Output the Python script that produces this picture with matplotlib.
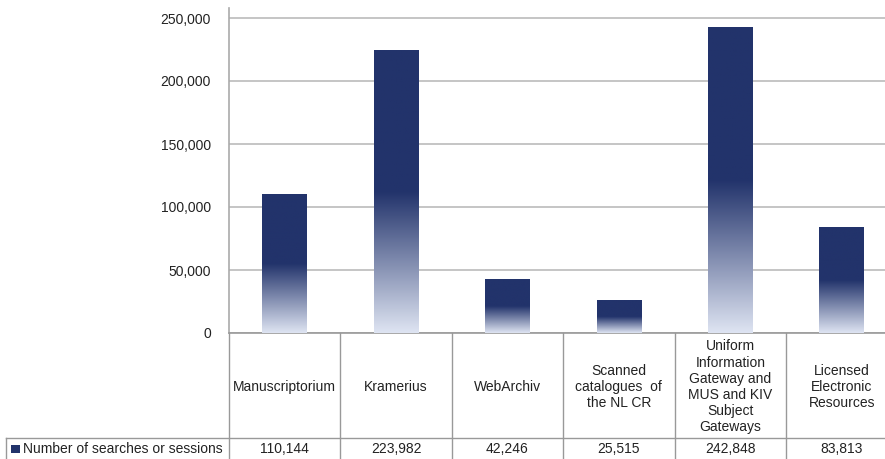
import numpy as np
import matplotlib
matplotlib.use('Agg')
import matplotlib.pyplot as plt
import matplotlib.transforms as mtransforms
from matplotlib.colors import LinearSegmentedColormap

plt.rcParams['font.family'] = ['Liberation Sans', 'DejaVu Sans']

categories = ['Manuscriptorium', 'Kramerius', 'WebArchiv',
              'Scanned\ncatalogues  of\nthe NL CR',
              'Uniform\nInformation\nGateway and\nMUS and KIV\nSubject\nGateways',
              'Licensed\nElectronic\nResources']
values = [110144, 223982, 42246, 25515, 242848, 83813]
series_name = 'Number of searches or sessions'
y_ticks = [0, 50000, 100000, 150000, 200000, 250000]

W, H = 885, 459
fs = 10
fig = plt.figure(figsize=(W / 100, H / 100), dpi=100)

# axes for the bars (in pixel terms: left 229, top 8, bottom 333, columns ~111px wide)
col_px = 111.4
left, top, bottom = 229, 8, 333
ax = fig.add_axes([left / W, 1 - bottom / H, 6 * col_px / W, (bottom - top) / H])

dark = np.array([34, 51, 107]) / 255
light = np.array([222, 228, 242]) / 255
cmap = LinearSegmentedColormap.from_list('grad', [(0, light), (0.5, dark), (1, dark)])
grad = np.linspace(1, 0, 256).reshape(-1, 1)

bar_w = 0.4
for i, v in enumerate(values):
    ax.imshow(grad, cmap=cmap, vmin=0, vmax=1, aspect='auto',
              extent=[i - bar_w / 2, i + bar_w / 2, 0, v], zorder=3)

ymax = 250000 + 10 * 250000 / 315
ax.set_xlim(-0.5, 5.5)
ax.set_ylim(0, ymax)
ax.set_yticks(y_ticks)
ax.set_yticklabels([f'{t:,}' for t in y_ticks], fontsize=fs, color='#222222')
ax.set_xticks([])
ax.tick_params(axis='y', length=0, pad=13)
ax.grid(axis='y', color='#bbbbbb', linewidth=1.2, zorder=0)
for s in ['top', 'right']:
    ax.spines[s].set_visible(False)
ax.spines['left'].set_color('#aaaaaa')
ax.spines['bottom'].set_color('#999999')
ax.spines['left'].set_linewidth(1.2)
ax.spines['bottom'].set_linewidth(1.2)

# data table below the chart
tr = mtransforms.blended_transform_factory(ax.transData, fig.transFigure)
fy = lambda py: 1 - py / H
line_kw = dict(color='#999999', linewidth=1.0, clip_on=False)
for k in range(7):
    x = k - 0.5
    ax.plot([x, x], [fy(333), fy(459)], transform=tr, **line_kw)
fig.add_artist(plt.Line2D([6 / W, 1], [fy(438), fy(438)], transform=fig.transFigure, **line_kw))
fig.add_artist(plt.Line2D([6 / W, 6 / W], [fy(438), fy(459)], transform=fig.transFigure, **line_kw))

for i, (c, v) in enumerate(zip(categories, values)):
    ax.text(i, fy(387), c, transform=tr, ha='center', va='center',
            fontsize=fs, color='#222222', linespacing=1.2)
    ax.text(i, fy(449), f'{v:,}', transform=tr, ha='center', va='center',
            fontsize=fs, color='#222222')

fig.add_artist(plt.Rectangle((11 / W, fy(453)), 9 / W, 8 / H, transform=fig.transFigure,
                             facecolor='#22336b', edgecolor='none'))
fig.text(23 / W, fy(449), series_name, ha='left', va='center', fontsize=fs, color='#222222')

fig.savefig('out.png', dpi=100)
